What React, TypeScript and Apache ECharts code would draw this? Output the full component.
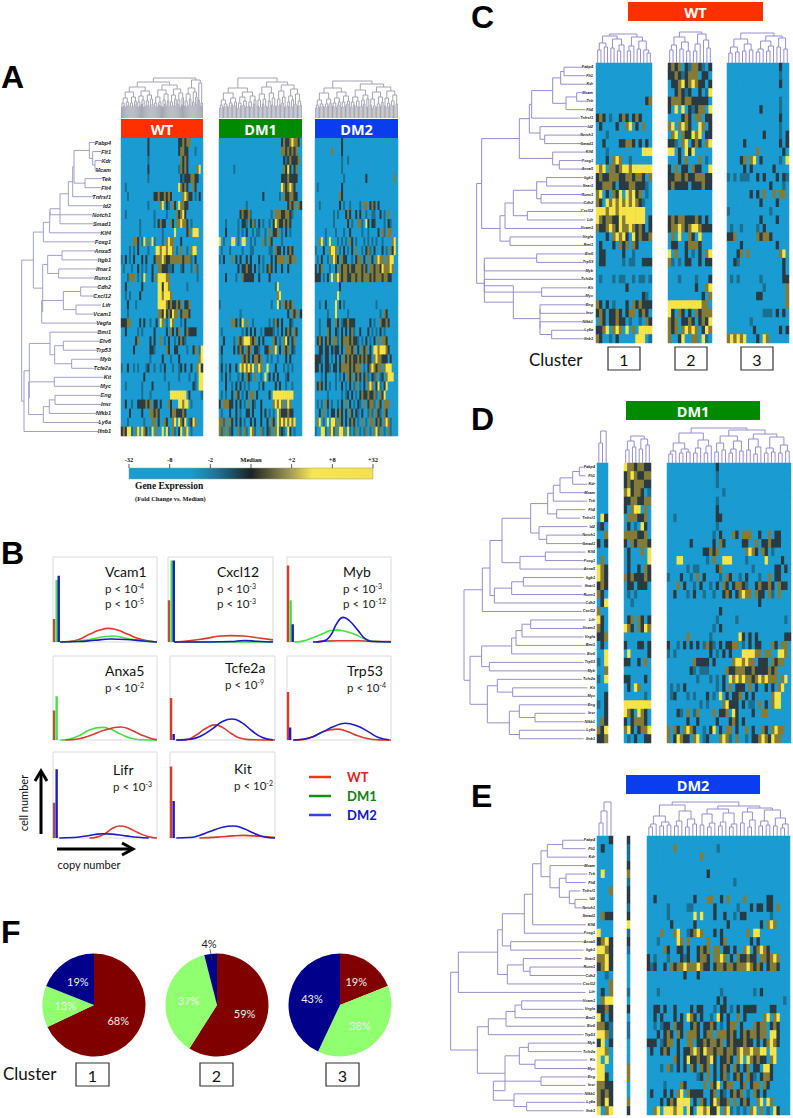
import React, { useEffect, useRef } from "react";
import * as echarts from "echarts";

const genes = ["Fabp4","Flt1","Kdr","Mcam","Tek","Flt4","Tnfrsf1","Id2","Notch1","Smad1","Klf4","Foxg1","Anxa5","Itgb1","Ifnar1","Runx1","Cdh2","Cxcl12","Lifr","Vcam1","Vegfa","Bmi1","Etv6","Trp53","Myb","Tcfe2a","Kit","Myc","Eng","Insr","Nfkb1","Ly6a","Ifnb1"];
const levelChars = ".tkoy";
const levelColors = ["#1a9cd2","#1d6f90","#2a3a40","#857b36","#f7e446"];

// expression levels read per gene row: . blue, t teal, k dark, o olive, y yellow
const heatAWT = [
".............k..............kkokoo.....",
".............k..............kookk...t..",
".............t...............okok......",
".............k..............tokok....oy",
".............t...............ktkkkookk.",
"..t.........................yokok..ok..",
"...t............kkokkokok.....oyokk.t.k.",
".............t.....oy.kt.ok.yookk......",
"..t.............t.....t....okoyk.......",
".........t......t.kokk..ok.ooyook.t....",
".........t..........t.....y.....ko.yyy..",
"......ook.ty.o.yt...t.oyoo...k..........",
"....t.t.k....t...yyoyyoyyo.t.o..t.oyy..",
"t.k.t.k...k.k...koooyokkooooookooot.k...",
".t...t..k.t.t..k..ookkkttk...tk...t.ot..",
"...tooo.t.ty...k.oyyyyoo.............t..",
"..k.......k.......yykyyo........t.......",
"..t.t....k........yyoyyyo...............",
"...k...t..........yyyyokokkoko.kko......",
"...t..............ookykokyoo.koook......",
"kkkoo....k.k..t..k.yo.t.yo...t.k........",
"..k.....t.t.....k.....k.ok.ko..kokkkk...",
".......ko.....k.k..o.t.k..t.kokt........",
"......k.......kkt.....ok..kk....t..ko.ty",
"..............t.....k...t...k.........oy",
"t..k..t.t...tk..t..t.k...t..tk.k..k..oyk",
"...........k.........t......t....t..t.yy",
"..t.......t....k.......t...........kt.yy",
"..........t...t.........yyyyyyyy.k.....t",
"..k..t..kkkkoko.kk.k...ok...yyoyy.t.....",
"....k.....k...ookok.....kookkkok........",
"...t.......t...oo.k..ok..oy.yoky.tkyo...",
"kokyyt.oy.yok.ty.o..y.yt.ot.ky.oy.t.....",
];
const heatADM1 = [
"..............................kokkoyook.",
"..............................ookokoko..",
"...............................ktkokkko.",
".......t.......................okyk.ko..",
"..............................kkkokkkk..",
"..............................yokoyok...",
".....................k.......t.okkookk..",
".............t...................koko.ok",
"..........kokkot.........t.oookkookt....",
"...t.....t.kkt.kot.k.t..t.kyokkokok.....",
"...k.....t.t.k..t.tt..t.o.kko.t.k.t.....",
"y.t...yy.t.yy..t.t...ot.ok....t.........",
".t...t.....t...tt.......tt.okk.k.kok....",
"t.k...o.k.k..k.k...k.t...k.koooo.okoo...",
".........k.kkokk.k.t.t.kok.k..k..k......",
"...k....t..okkkkk..k....k...............",
"...........................ty...........",
"............................oy..........",
"t........................t..yt.okoko....",
"..........t......................k.oko.k",
"......ook.ky.o..t.......t.tok.k...kt....",
".t.........t.k.k.k..t.kkkkt.t.k.kok.ok..",
"..k....t.okoyyyoko.k.k....ok.t.oyk.ko...",
".k.....k.kok.oko.kkt..kko.oy.k.oko.kt...",
".t.........okok.kooko..t.t..t...k.k.....",
".k.t.k..k.yoyoyoy.oyo..y...k...t.t.t....",
".t.k.t...t.k.okt.o..t.y.k.k.k...tk......",
"...k..t.k.k.t.t....t.k.....k.k..t..t....",
".t.t..k.ok.t.k.oo.k.....k.yyyyyyyyyy....",
"k.oookk.k.k.t.o.kt..k.....oyoyo.oyo.....",
".t...k..k.t..kk.k...k.k.t.t.yokkkokk....",
"ooto.ok.k.k.t..k.k..k..k.ok.yoyoyoyoy...",
"oto.otk..ot.ot.yot..ot.kto.oytkt.yk.t...",
];
const heatADM2 = [
".............k..........................",
"........o....k...........................",
".............t..t.......................",
".............t..........................",
"..............t..........k.............o",
".t...........k..........................",
"............ok..........................",
"..t.........k.t..t....t.oo.kok.k........",
".........t.t...kok..k.k..t..tt..k.t.o...",
".........t......k.t..oot.yk.kk....t.kt..",
".....t....t...t..k.....t..t....k.ot.oo..",
"..oy.t.y...t.t.t.ok.t...t.t.t.t..t....oy",
"t...k..oyyo.t.k.t.k.o..t.kot.k...k.t.oky",
".t.k..t.oyok.okk..t.koo.k.o.k.oyoo.ooyy.",
"k.ko...t..k.okookokkoookok.ookookyoooyo.",
"kkk.t.k.y.oyokookkookookoookokoookookk..",
"............k...........................",
"...........y............................",
"..t..k....y.k.t...............t.........",
"......t...y.....t...............t.ok....",
"..t...kk..ok.tkkokkk.......k.t..okkok...",
"..t...ok..kt.k.k.kot..k...k.t.t.k.t.....",
".kok.kok.oot.koookokkt.t.k.t.k.o.ook....",
"..kk.kk.ktkk.k.oooko.k.oko.k.yyoyyyok...",
"kkkt.kk.t.k.k.okokokkokokokk.oyookkk.k..",
"kk.k.kkt.kk.kooookokooo.t.koyokoo.oyyy..",
"...t.k....t.t.k.oko.kok.kot.kto.tk.oyyy.",
".kok.k.t..t..k.t.k.to.t.k.oyo.kyt.ky....",
"......t......t.tk.k.t.kokkokkot.oky.....",
".t.t.ok.t..t.k.o.k.t.kt.o.koot.ok.ooo...",
"..k.o.t.kk.kok.k.ok.kt.k..tot.okt.ok....",
".oy.t.y.yyo.ok.k.kok.t.o.t.oo.kok.oyot..",
"t..yyt.oyto.yyo.yt.to.t.to.t.oyto.t.ot..",
];
const heatC1 = [
".................",".................",".................",".................",
"...............ko",".................",
"kok.t..kok.kok...",".k....k..oy.k.o..","...t.............","..k....kkook.k.k.",
"...t..........yyy","...k.oyo..t......","yoy.ookoyyoyyyyyy","kokkoookkookook.o",
"kkoook.kkkookkkt.","oy.k.oky.yoyko.t.","ok.yoyoyoyoyokt..","yyyoyyoyyyyyyyy..",
"yokookkyoyyyyyy.k","okkoyokyooyokok.k","...k.oyoyk.ykokko",".k...k.oko.ok....",
".kk.....k..t.....",".kk.....t.tt..kkk",".................",".t...t.tt..t.tt.t",
".........k.......","..............kt.","ok.k.t...k.okokkk","kok.kkok.koo.kok.",
".ok.kkokk.t..t.ok","kkoy.oyo.y.o.yyyy","ok..t.k.....yyy.t",
];
const heatC2 = [
"koko.ktookt.k","kkoktkooo.kk.",".kkoykoyokk.k","..koktk..k.ty","koookookkkkk.","k.y.y.ktkoo.y",
"....kok.oo.kk","oy.oyok..yo.k",".oy.okkyoy.kk","kkt.oy.kok.oy","yy.k.yky.....","...k.o...o.t.",
"k.o.kk.okk..y","kkookokkoookk","kokkkk.kkkokk",".............",".............",".............",
"kokookkkok.k.","kooyokoyyokkk",".o.y..ok.y...",".kk..koook...","y.o..k.t.k.oy","ot.t.kk..k.kk",
".............","...t....t...k","........k..oy","..........k.o","yyyyyyyyyyoo.","yk.ok.k.okooo",
"oko.kkok.koky","oko.oyoyo.kyo","o..ky..oo.yt.",
];
const heatC3 = [
"................k..","................t..","................k..","...................",
"................t..","..........k.....t..","................k..","................t..",
"...........k....t.k",".....k..........k.k",".........o.......k.","....ko.oy.k.....t.y",
".....k.k......k....","t.t.ttt..k.k...k.kt",".............k...t.",".......k.k.o..o.oo.",
"..........k....k...","t............t.....","..........k....k...",".t..t....t.k.......",
"kko......okook.....","....k..........k...","...ko.o.........oy.","..kt.............k.",
".................k.",".t.t......t......kk","...........t......o",".........kk.......o",
"..................o","...........ttt.k.k.",".......t...........","........k.......k.k",
"oyoyoy...k.yo......",
];
const heatD1 = ["...","...","...","...","...","...",".yk","tk.","..o","k.k","...",".o.","yok","yok","kok","ok.",".ky","o..","yk.","ok.","kko",".k.","..y","t.y","..o","t.y","...","..k","t.k","..k",".ok","oky","kko"];
const heatD2 = ["yookookk","koyokkoo","kokoookk","oykook.t","kkookkoo","k.oyy.o.",".oookko.",".k.t.yk.","ooookko.","k.okoook",".k...o.y",".k.....y",".k..k.ok","okokkkok",".kk.kkk.",".t.t....","..t.....","........",".ko.ok.k","yok.okyo","........","k...kk.k",".y.....k","kk..k.o.","........","kk....k.",".k.yo...","......t.","yyyyyyyy","yok.yok.","k.koook.","oyk.kooy",".t.k..kk"];
const heatD3 = [
"...............k.....................","...............t.....................","...............t.....................",".................t...................",
"...............t.....................","...............k.....................","..t............kk....................","...............t.....................",
"..............t.k...ok.ooo..k..o.kk..",".......k......k.ok.....kk..o.kkokkk..","...........kkoko........oyok.ok.t....","...yy.......t.o..yyy....t.....y....k.",
"......t.tt.....ko.........t......kk.k","t...k..t.o.k....t.ok..t.k...t..o.kk..","...o.k..t.k..t.k.ok.kookt..kokkok.okk","..k...t.k..t..t..kok.koyoo.okk.ot.o..",
"............................k........","................k....................","...............t.....t..............t","..............t.k....................",
"......o......t........yk.k.k........kk","k..t.k.k.k.tokt.k.kkoo.t.k.kk...ok.oo","t.t..........k.t.k.k...yyyyoo.oo..yyo","........okkkk.k.....oyyoyoo.kkk.okoo.",
".......kt.ttt.....okkoookkokkkkoko...",".........t...t.t.k.yoyoyookoyoyooo.oy",".t.t.k.........t.k.o.kkk.o.k..k.k.oy.",".tk...t.t...k.t.y.k.kko.k.k.....oyy..",
"..........t.t....oykkk.k.tt.o.k.oyy..","...kt.o.to....o.kko.yk....k..oo......","......k..k.....k...kok.k.............","o.ok.oyok..t.ky.k.oo.k..o.k..ok.oyoo.",
"o.kyokk.oy.tk...oyot.o..t.kkoyokyoo..",
];
const heatE1 = ["...k",".k..","....","....",".y..","....","...o","....","....",".okk","....","y...","koyk","yyok","ooyk","koyk","..t.","...o",".k.o",".oyy","kkok","yk.k","ookt","yyot","ky.k","yyo.","y.y.","yy..","yyk.","ookk","okok","okyk","y.oy"];
const heatE2 = ["k","t","t","k","o","t","k","k","t","k","y","t","k","t",".",".",".",".","t",".","k",".","t","t",".",".",".","o","o",".",".","o","k"];
const heatE3 = [
"...........................................","........o............t.....................","................o..........................","...........................................",
"..................k........................","..........................t................","...........................................","..k...........k...oo..k.o....o......kk.....",
"......t.....tt......k......t...k.kk.kk.o...","......t.......y.y...k..k..t.kk.......t.....",".......k......k.........k.........k.oyo....","....o...oy..tkoyo...k.k.......o.yy.........",
"...t.....yo.o.....o...ko.......k.k.........",".....ok..kk.k..koko.oo.kk.k..oy.koyok......","k.t...t...ktk..kook.ooyo.k.okkokk.ookoyo...","ktk..k.okooyoooyokk.kookookoooyokok.kook...",
"...........k...k...........................","...........................................","...t..................t.........t.k........",".....................k.k.................t.",
"..kk.k..k....k.kk...t.kk.t.k.kkkk....kk....","..k.k...k.k.yok.k..t.yk.k..o.k.....oy.oy...","..t.tkk.okk..kok.kkok.t.koo.k...okoo.kok...","...k.kok.ok.oook.koo.oookok.kokookoo.yyk...",
"kkk.tkoo.k..oo.kkokooko.kokkkokk.k.koyok...",".k..kok..k.kkoyokyookookookoyooyooyy.yy....","........ok.kykkokkoyk.kkok.oy.yokokk.oy....","....t.ot.k.k.ok.oko.k.kok.ok.ko.kk.yyk.....",
"...............tk.o.k.kot.kok.okt.kook.....",".....t....ok.....o.oky.koo..ko.koo.ok......",".k...k.k.oy.okkkk..ko.kt.koko.t.ok.k.......","....k.kokyyyy.k.ok.kyokko.o.kok..oy.yo.....","..oy.yyyoyy.yk.yyoykky.oyt.t.t.oy.o.t.yk...",
];

// gene dendrograms: [height, child, child], a bare number is a gene row
const treeA = [65,[100,[130,[148,[150,[180,[205,[218,[222,[268,0,[278,1,[285,2,3]]],[255,4,5]],6],7],9],8],10],11],[128,[143,[186,12,13],[176,14,15]],[125,[190,[242,16,17],[228,18,19]],20]]],[72,[88,[150,21,[164,[190,22,23],[215,24,25]]],[86,[163,26,27],[130,[148,[165,28,29],30],31]]],32]];
const treeC = [110,[125,[238,[268,[275,[338,[362,[372,0,1],2],[378,[410,3,4],5]],6],[300,7,[314,8,9]]],[338,10,[358,11,12]]],[180,[195,[220,[290,[320,13,14],[303,15,16]],[262,17,18]],19],[210,20,21]]],[133,[133,[290,22,23],24],[220,[133,[305,26,27],25],[300,[300,28,29],[300,30,[335,31,32]]]]]];
const treeD = [72,[127,[150,[186,[272,[323,[340,[360,[398,[418,0,1],2],3],4],[350,5,6]],[297,7,[320,8,9]]],[240,[316,10,11],12]],[163,[215,[250,13,14],15],16]],17],[90,[125,[215,[228,[246,[272,18,19],20],21],22],[148,23,24]],[142,[172,25,[218,26,27]],[208,[238,28,[285,29,30]],[238,31,32]]]]];
const treeE = [32,[55,[173,[187,[253,[278,[303,[322,[368,0,1],2],[330,3,[358,[378,4,5],[388,6,[405,7,8]]]]],10],11],[212,12,13]],[202,[250,14,[270,15,16]],17]],18],[112,[145,[198,[225,[245,19,20],21],22],23],[195,[238,[265,24,25],[285,26,27]],[160,[303,28,29],[222,30,[260,31,32]]]]]];

// column dendrograms: a bare 0 is one cell column, heights in px above the heatmap
const colAWT = [40,[36,[31,[26,[20,[15,[11,0,0],[12,0,0]],[16,[11,0,0],[13,0,0]]],[21,[15,[12,0,0],[11,0,0]],[17,[13,0,0],0]]],[27,[22,[16,[11,0,0],[12,0,0]],[18,[14,0,0],[11,0,0]]],[23,[17,[12,0,0],[13,0,0]],[19,[11,0,0],[14,0,0]]]]],[33,[28,[21,[15,[12,0,0],[11,0,0]],[16,[13,0,0],[12,0,0]]],[24,[18,[11,0,0],[14,0,0]],[17,[12,0,0],0]]],[29,[23,[16,[11,0,0],[13,0,0]],[19,[12,0,0],0]],[25,[18,[14,0,0],[11,0,0]],[20,[13,0,0],0]]]]],[38,[30,[24,[17,[12,0,0],[11,0,0]],[19,[13,0,0],0]],[26,[16,[12,0,0],0],[21,[14,0,0],0]]],[35,[18,0,0],[15,[12,0,0],0]]]];
const colADM1 = [40,[30,[25,[18,[13,[10,0,0],0],[14,[11,0,0],[12,0,0]]],[20,[15,[11,0,0],[13,0,0]],[16,[12,0,0],0]]],[26,[21,[15,[10,0,0],[12,0,0]],[17,[13,0,0],[11,0,0]]],[22,[16,[12,0,0],[11,0,0]],[18,[14,0,0],0]]]],[36,[31,[24,[18,[12,0,0],[11,0,0]],[19,[14,0,0],[12,0,0]]],[25,[17,[11,0,0],0],[20,[13,0,0],[12,0,0]]]],[33,[27,[19,[12,0,0],[13,0,0]],[21,[15,0,0],[11,0,0]]],[29,[22,[16,[12,0,0],0],[18,[11,0,0],0]],[24,[14,0,0],[17,[12,0,0],[13,0,0]]]]]]];
const colADM2 = [37,[30,[25,[18,[13,[10,0,0],0],[14,[11,0,0],[12,0,0]]],[19,[14,[11,0,0],[12,0,0]],[15,0,0]]],[26,[20,[15,[12,0,0],[11,0,0]],[16,[13,0,0],0]],[22,[16,[11,0,0],[12,0,0]],[17,[14,0,0],0]]]],[34,[28,[21,[16,[11,0,0],[13,0,0]],[17,[12,0,0],[11,0,0]]],[23,[18,[12,0,0],[14,0,0]],[19,[11,0,0],0]]],[31,[26,[19,[13,0,0],[12,[10,0,0],0]],[21,[14,[11,0,0],[12,0,0]],[16,0,0]]],[27,[20,[12,0,0],[15,[11,0,0],0]],[23,[17,[13,0,0],[12,0,0]],[14,0,0]]]]]];
const colC1 = [29,[27,[20,[13,0,0],[16,0,0]],[24,[15,0,0],[18,[12,0,0],0]]],[26,[17,[12,0,0],0],[22,[14,0,0],[13,0,[10,0,0]]]]];
const colC2 = [31,[26,[18,[13,0,0],0],[21,[14,0,0],[12,0,0]]],[29,[19,[12,0,0],0],[23,0,[15,0,0]]]];
const colC3 = [30,[24,[16,[10,0,0],[11,0,0]],[19,[12,0,0],[13,0,0]]],[27,[22,[14,[11,0,0],0],[17,[12,0,0],0]],[25,[16,0,0],[14,0,0]]]];
const colD1 = [32,[20,0,0],0];
const colD2 = [27,[22,[13,0,0],[16,0,0]],[24,[14,0,0],[18,0,0]]];
const colD3 = [35,[30,[20,[12,[9,0,0],0],[14,[10,0,0],[11,0,0]]],[23,[15,[10,0,0],0],[17,[10,0,0],0]]],[33,[27,[20,[11,0,0],[13,0,0]],[22,[14,[10,0,0],0],[12,0,0]]],[29,[24,[13,0,0],[16,[9,0,0],0]],[26,[15,[10,0,0],[11,0,0]],[18,[10,0,0],[12,0,0]]]]]];
const colE1 = [34,[25,[13,0,0],0],0];
const colE3 = [34,[31,[20,[12,[9,0,0],0],[14,[10,0,0],[11,0,0]]],[25,[15,[10,0,0],0],[17,[9,0,0],[12,0,0]]]],[30,[27,[22,[11,0,0],[13,[9,0,0],0]],[23,[14,[10,0,0],0],[12,[9,0,0],0]]],[28,[24,[13,0,0],[16,[9,0,0],0]],[26,[15,[10,0,0],[11,0,0]],[18,[10,0,0],[12,[8,0,0],0]]]]]];

// panel B curves, x and y as % of the panel box
const vcam1Red = [[7,0],[15,.5],[25,3],[35,9],[45,14],[53,16],[62,14],[72,9],[82,4],[92,1],[100,0]];
const vcam1Green = [[7,0],[20,.5],[30,2],[40,4],[50,6.5],[58,7],[68,5],[78,2.5],[88,1],[100,0]];
const vcam1Blue = [[7,0],[25,.5],[40,2],[55,3.5],[70,3],[85,1.5],[100,0]];
const cxcl12Green = [[6,.2],[55,.3],[100,0]];
const cxcl12Red = [[6,0],[20,1.5],[35,4],[50,7],[60,7.5],[72,7],[85,5],[100,2.5]];
const cxcl12Blue = [[6,0],[40,0],[60,.5],[73,1.8],[85,.8],[100,0]];
const mybRed = [[28,0],[35,1],[50,1.5],[70,1.5],[80,.8],[100,.5]];
const mybGreen = [[7,0],[15,1],[25,5],[35,10],[42,13.5],[48,14],[55,13],[65,9],[75,3.5],[85,.5],[100,0]];
const mybBlue = [[25,0],[35,1],[42,8],[48,22],[54,29],[60,25],[68,14],[75,4],[82,.5],[100,0]];
const anxa5Green = [[7,0],[15,1],[25,5],[35,12],[47,15],[55,13],[65,7],[75,2],[85,.3],[100,0]];
const anxa5Red = [[12,0],[25,1.5],[35,5],[50,12],[65,15.5],[75,12],[85,6],[95,1.5],[100,.5]];
const tcfe2aRed = [[6,0],[15,.5],[25,6],[33,13],[43,18],[50,15],[58,8],[65,3],[75,.5],[100,0]];
const tcfe2aBlue = [[6,0],[20,1],[30,5],[40,13],[50,22],[59,25],[68,21],[78,11],[88,3],[98,.3]];
const trp53Red = [[6,0],[15,.5],[25,4],[35,10],[48,13],[58,10],[68,5],[78,1.5],[88,.2],[100,0]];
const trp53Blue = [[6,0],[15,.8],[25,4],[35,10],[45,16],[56,20],[67,17],[78,10],[88,3],[98,.3]];
const lifrRed = [[35,0],[42,1],[50,5],[57,11],[64,14],[72,12],[82,6],[92,1.5],[100,0]];
const lifrBlue = [[6,0],[20,.5],[30,2],[40,4],[48,5],[57,4.5],[70,2.5],[82,.8],[92,0]];
const kitRed = [[28,0],[45,1],[60,2.5],[70,3],[85,2],[100,.5]];
const kitBlue = [[6,0],[18,.5],[28,3],[38,7.5],[50,12.5],[60,14],[70,11],[80,5.5],[90,1.2],[100,0]];

const RED = "#d83a30", GREEN = "#44e044", BLUE = "#1c1cc4";
// bars at the left edge of each box: x %, height %, colour
const vcam1Bars = [[1,27,"#a8583a"],[3.5,73,GREEN],[5.5,78,BLUE]];
const cxcl12Bars = [[1,49,"#b8503a"],[3.5,96,GREEN],[5.5,96,BLUE]];
const mybBars = [[1,90,RED],[3.5,49,GREEN],[5.5,21,BLUE]];
const anxa5Bars = [[1,35,"#a8583a"],[3.5,52,GREEN]];
const tcfe2aBars = [[1,50,RED],[3.5,7,BLUE]];
const trp53Bars = [[1,57,RED],[3,15,BLUE]];
const lifrBars = [[1,41,"#a04a70"],[3.5,80,BLUE]];
const kitBars = [[1,83,RED],[3.5,43,BLUE]];

const pie1 = [68,13,19];
const pie2 = [59,37,4];
const pie3 = [19,38,43];
const pieColors = ["#800000","#90ff70","#00008b"];

const colorbarLabels = ["-32","-8","-2","Median","+2","+8","+32"];

const SANS = "Lato";
const ARIAL = "Liberation Sans";
const SERIF = "Liberation Serif";

function buildOption() {
  const grid: any[] = [], xAxis: any[] = [], yAxis: any[] = [], series: any[] = [], graphic: any[] = [];
  const heatIdx: number[] = [];
  const addGrid = (g: any, x: any, y: any) => { grid.push(g); xAxis.push({ ...x, gridIndex: grid.length - 1 }); yAxis.push({ ...y, gridIndex: grid.length - 1 }); return grid.length - 1; };

  const heat = (rows: string[], left: number, width: number, top: number, bottom: number, labels?: any) => {
    const n = rows.reduce((m, r) => Math.max(m, r.length), 0);
    const cols = Array.from({ length: n }, (_, i) => String(i));
    const idx = addGrid({ left, width, top, height: bottom - top, show: true, backgroundColor: levelColors[0], borderWidth: 0 },
      { type: "category", data: cols, show: false },
      { type: "category", data: genes, inverse: true, show: !!labels, axisLine: { show: false }, axisTick: { show: false }, splitLine: { show: false },
        axisLabel: labels ? { interval: 0, fontSize: labels.size, fontStyle: "italic", fontWeight: "bold", fontFamily: ARIAL, color: "#222", margin: labels.margin } : undefined });
    const data: any[] = [];
    rows.forEach((r, y) => { for (let x = 0; x < n; x++) { const c = levelChars.indexOf(r[x] ?? "."); data.push([x, y, c < 0 ? 0 : c]); } });
    heatIdx.push(series.length);
    series.push({ type: "heatmap", xAxisIndex: idx, yAxisIndex: idx, data, progressive: 0, silent: true, emphasis: { disabled: true } });
  };

  const lineSeries = (idx: number, data: any[], color: string, width: number, smooth = false) =>
    series.push({ type: "line", xAxisIndex: idx, yAxisIndex: idx, data, showSymbol: false, symbol: "none", silent: true, smooth: smooth ? 0.5 : false, connectNulls: false, clip: false, lineStyle: { color, width }, z: 3 });

  const colDendro = (tree: any, left: number, width: number, base: number, color: string) => {
    const segs: any[] = [];
    let n = 0;
    const walk = (node: any): [number, number] => {
      if (!Array.isArray(node)) { const p = n + 0.5; n++; return [p, 0]; }
      const a = walk(node[1]), b = walk(node[2]), h = node[0];
      segs.push([a[0], a[1]], [a[0], h], [b[0], h], [b[0], b[1]], ["-", "-"]);
      return [(a[0] + b[0]) / 2, h];
    };
    walk(tree);
    const idx = addGrid({ left, width, top: base - 42, height: 42 },
      { type: "value", min: 0, max: n, show: false, splitLine: { show: false } },
      { type: "value", min: 0, max: 42, show: false, splitLine: { show: false } });
    lineSeries(idx, segs, color, 1);
  };

  const rowDendro = (tree: any, left: number, span: number, labelRight: number, charW: number, top: number, bottom: number, color: string) => {
    const segs: any[] = [];
    const walk = (node: any): [number, number] => {
      if (!Array.isArray(node)) { return [node + 0.5, labelRight - genes[node].length * charW]; }
      const a = walk(node[1]), b = walk(node[2]), h = node[0];
      segs.push([a[1], a[0]], [h, a[0]], [h, b[0]], [b[1], b[0]], ["-", "-"]);
      return [(a[0] + b[0]) / 2, h];
    };
    walk(tree);
    const idx = addGrid({ left, width: span / 3, top, height: bottom - top },
      { type: "value", min: 0, max: span, show: false, splitLine: { show: false } },
      { type: "value", min: 0, max: 33, inverse: true, show: false, splitLine: { show: false } });
    lineSeries(idx, segs, color, 1);
  };

  const txt = (x: number, y: number, text: string, o: any = {}) => graphic.push({ type: "text", x, y, rotation: o.rotation || 0, silent: true, z: 10,
    style: { text, fill: o.fill || "#111", fontSize: o.size || 12, fontFamily: o.font || SANS, fontWeight: o.weight || "normal", textAlign: o.align || "left", textVerticalAlign: "middle", rich: o.rich } });
  const rect = (x: number, y: number, w: number, h: number, style: any) => graphic.push({ type: "rect", silent: true, z: 9, shape: { x, y, width: w, height: h }, style });
  const bar = (x: number, y: number, w: number, h: number, color: string, label: string, size: number) => { rect(x, y, w, h, { fill: color }); txt(x + w / 2, y + h / 2 + 0.5, label, { fill: "#fff", size, weight: "bold", align: "center", font: "Open Sans" }); };
  const box = (x: number, y: number, w: number, h: number, label: string) => { rect(x, y, w, h, { fill: "#fff", stroke: "#333", lineWidth: 1.2 }); txt(x + w / 2, y + h / 2 + 1, label, { size: 16, align: "center" }); };
  const letter = (x: number, y: number, l: string) => txt(x, y, l, { size: 32, weight: "bold", font: ARIAL, fill: "#000" });
  const poly = (points: number[][], color: string, width: number) => graphic.push({ type: "polyline", silent: true, z: 9, shape: { points }, style: { stroke: color, lineWidth: width, fill: "none" } });

  // Panel A
  const aTop = 138, aBot = 436, aDendro = "#a4a4b4";
  heat(heatAWT, 121, 82, aTop, aBot, { size: 5.5, margin: 10 });
  heat(heatADM1, 219, 83, aTop, aBot);
  heat(heatADM2, 315, 83, aTop, aBot);
  colDendro(colAWT, 121, 82, 118, aDendro);
  colDendro(colADM1, 219, 83, 118, aDendro);
  colDendro(colADM2, 315, 83, 118, aDendro);
  rowDendro(treeA, 0, 363, 333, 7.5, aTop, aBot, "#a0a0c8");
  bar(121, 119, 82, 19, "#ff3000", "WT", 14.5);
  bar(219, 119, 83, 19, "#008a00", "DM1", 14.5);
  bar(315, 119, 83, 19, "#0a3cf0", "DM2", 14.5);
  letter(1, 77, "A");

  // colour scale
  graphic.push({ type: "rect", silent: true, z: 9, shape: { x: 129, y: 468, width: 244, height: 11 },
    style: { stroke: "#9a9a70", lineWidth: 0.5, fill: new echarts.graphic.LinearGradient(0, 0, 1, 0, [
      { offset: 0, color: "#1a9cd2" }, { offset: 0.25, color: "#1a9cd2" }, { offset: 0.36, color: "#1e7498" }, { offset: 0.5, color: "#1e2226" },
      { offset: 0.66, color: "#a09a50" }, { offset: 0.75, color: "#f6e556" }, { offset: 1, color: "#f4df52" } ]) } });
  colorbarLabels.forEach((l, i) => {
    const x = 129 + (244 * i) / 6;
    poly([[x, 464], [x, 468]], "#111", 0.7);
    txt(x, 459.5, l, { size: 6.5, font: SERIF, weight: "bold", align: "center" });
  });
  txt(135, 486, "Gene Expression", { size: 9.5, font: SERIF, weight: "bold" });
  txt(135, 498, "(Fold Change vs. Median)", { size: 6.4, font: SERIF, weight: "bold" });

  // Panel B
  letter(1, 553, "B");
  const pStyle = { a: { fontSize: 11.5, fontFamily: SANS, fill: "#222" }, s: { fontSize: 7, fontFamily: SANS, fill: "#222", verticalAlign: "top" } };
  const panels: any[] = [
    ["Vcam1", 53, 157, 557, 642, [[vcam1Red, RED], [vcam1Green, GREEN], [vcam1Blue, BLUE]], vcam1Bars, 105, 571, ["-4", "-5"]],
    ["Cxcl12", 168, 273, 557, 642, [[cxcl12Green, GREEN], [cxcl12Red, RED], [cxcl12Blue, BLUE]], cxcl12Bars, 217, 571, ["-3", "-3"]],
    ["Myb", 287, 391, 557, 642, [[mybRed, RED], [mybGreen, GREEN], [mybBlue, BLUE]], mybBars, 343, 571, ["-3", "-12"]],
    ["Anxa5", 53, 157, 656, 740, [[anxa5Green, GREEN], [anxa5Red, RED]], anxa5Bars, 105, 670, ["-2"]],
    ["Tcfe2a", 170, 275, 656, 740, [[tcfe2aRed, RED], [tcfe2aBlue, BLUE]], tcfe2aBars, 225, 667, ["-9"]],
    ["Trp53", 287, 391, 656, 740, [[trp53Red, RED], [trp53Blue, BLUE]], trp53Bars, 347, 670, ["-4"]],
    ["Lifr", 53, 157, 752, 838, [[lifrRed, RED], [lifrBlue, BLUE]], lifrBars, 113, 769, ["-3"]],
    ["Kit", 170, 275, 752, 838, [[kitRed, RED], [kitBlue, BLUE]], kitBars, 234, 768, ["-2"]],
  ];
  panels.forEach(([name, l, r, t, b, curves, bars, tx, ty, ps]) => {
    const idx = addGrid({ left: l, width: r - l, top: t, height: b - t, show: true, borderColor: "#d9d9d9", borderWidth: 1, backgroundColor: "#fff" },
      { type: "value", min: 0, max: 100, show: false, splitLine: { show: false } },
      { type: "value", min: 0, max: 100, show: false, splitLine: { show: false } });
    curves.forEach(([d, c]: any) => lineSeries(idx, d, c, 1.6, true));
    bars.forEach(([x, h, c]: any) => lineSeries(idx, [[x, 0], [x, h]], c, 2.4));
    txt(tx, ty, name, { size: 14 });
    ps.forEach((p: string, i: number) => txt(tx, ty + 17 + i * 15, `{a|p < 10}{s|${p}}`, { rich: pStyle }));
  });
  [["WT", 777, "#e02020", "#e83a20"], ["DM1", 796, "#108010", "#109010"], ["DM2", 815, "#1414c8", "#2848e0"]].forEach(([l, y, tc, lc]: any) => {
    poly([[309, y], [331, y]], lc, 2.5);
    txt(347, y, l, { size: 13, weight: "bold", fill: tc });
  });
  poly([[41, 834], [41, 772]], "#000", 3);
  poly([[35, 781], [41, 771], [47, 781]], "#000", 3);
  poly([[57, 849], [131, 849]], "#000", 3);
  poly([[122, 843], [133, 849], [122, 855]], "#000", 3);
  txt(23, 803, "cell number", { size: 11, align: "center", rotation: Math.PI / 2 });
  txt(89, 864, "copy number", { size: 11, align: "center" });

  // Panel C
  const cTop = 63, cBot = 343, lav = "#9490cc";
  heat(heatC1, 596, 56, cTop, cBot, { size: 3.8, margin: 3 });
  heat(heatC2, 668, 44, cTop, cBot);
  heat(heatC3, 727, 62, cTop, cBot);
  colDendro(colC1, 596, 56, cTop, lav);
  colDendro(colC2, 668, 44, cTop, lav);
  colDendro(colC3, 727, 62, cTop, lav);
  rowDendro(treeC, 440, 462, 459, 5.6, cTop, cBot, lav);
  bar(628, 2, 135, 19, "#ff3000", "WT", 14.5);
  letter(471, 17, "C");
  txt(529, 359, "Cluster", { size: 17 });
  box(608, 347, 32, 23, "1"); box(675, 347, 32, 23, "2"); box(741, 347, 32, 23, "3");

  // Panel D
  const dTop = 463, dBot = 743;
  heat(heatD1, 597, 11, dTop, dBot, { size: 3.8, margin: 2 });
  heat(heatD2, 624, 27, dTop, dBot);
  heat(heatD3, 667, 124, dTop, dBot);
  colDendro(colD1, 597, 11, dTop, lav);
  colDendro(colD2, 624, 27, dTop, lav);
  colDendro(colD3, 667, 124, dTop, lav);
  rowDendro(treeD, 440, 462, 459, 5.6, dTop, dBot, lav);
  bar(626, 401, 134, 19, "#008a00", "DM1", 14.5);
  letter(471, 419, "D");

  // Panel E
  const eTop = 836, eBot = 1115;
  heat(heatE1, 597, 16, eTop, eBot, { size: 3.8, margin: 2 });
  heat(heatE2, 627, 3, eTop, eBot);
  heat(heatE3, 647, 143, eTop, eBot);
  colDendro(colE1, 597, 16, eTop, lav);
  colDendro(colE3, 647, 143, eTop, lav);
  rowDendro(treeE, 440, 462, 459, 5.6, eTop, eBot, lav);
  bar(626, 775, 134, 19, "#0a3cf0", "DM2", 14.5);
  letter(471, 796, "E");

  // Panel F
  letter(1, 932, "F");
  const names = ["WT", "DM1", "DM2"];
  [[pie1, 94], [pie2, 217], [pie3, 340]].forEach(([vals, cx]: any) => {
    series.push({ type: "pie", center: [cx, 1005], radius: [0, 51.5], animation: false, silent: true, startAngle: 90,
      label: { position: "inside", formatter: "{c}%", fontSize: 11, fontFamily: SANS, color: "#eee" }, labelLine: { show: false },
      labelLayout: (p: any) => (p.text === "4%" ? { x: 209, y: 943, align: "center", verticalAlign: "middle" } : {}),
      data: vals.map((v: number, i: number) => ({ name: names[i], value: v, itemStyle: { color: pieColors[i] },
        ...(v === 4 ? { label: { position: "outside", color: "#222", formatter: "{c}%", fontSize: 11, fontFamily: SANS }, labelLine: { show: false } } : {}) })) });
  });
  poly([[210, 949], [212, 960]], "#333", 0.7);
  txt(3, 1073, "Cluster", { size: 17 });
  box(76, 1063, 33, 23, "1"); box(200, 1063, 33, 23, "2"); box(326, 1063, 33, 23, "3");

  return {
    animation: false, backgroundColor: "#fff", grid, xAxis, yAxis, series, graphic,
    visualMap: [{ show: false, type: "continuous", seriesIndex: heatIdx, dimension: 2, min: 0, max: 4, inRange: { color: levelColors } }],
  };
}

export default function App() {
  const ref = useRef<HTMLDivElement>(null);
  useEffect(() => {
    const chart = echarts.init(ref.current!, undefined, { renderer: "svg", width: 793, height: 1118 });
    chart.setOption(buildOption() as any);
    return () => chart.dispose();
  }, []);
  return <div ref={ref} style={{ position: "absolute", left: 0, top: 0, width: 793, height: 1118 }} />;
}
